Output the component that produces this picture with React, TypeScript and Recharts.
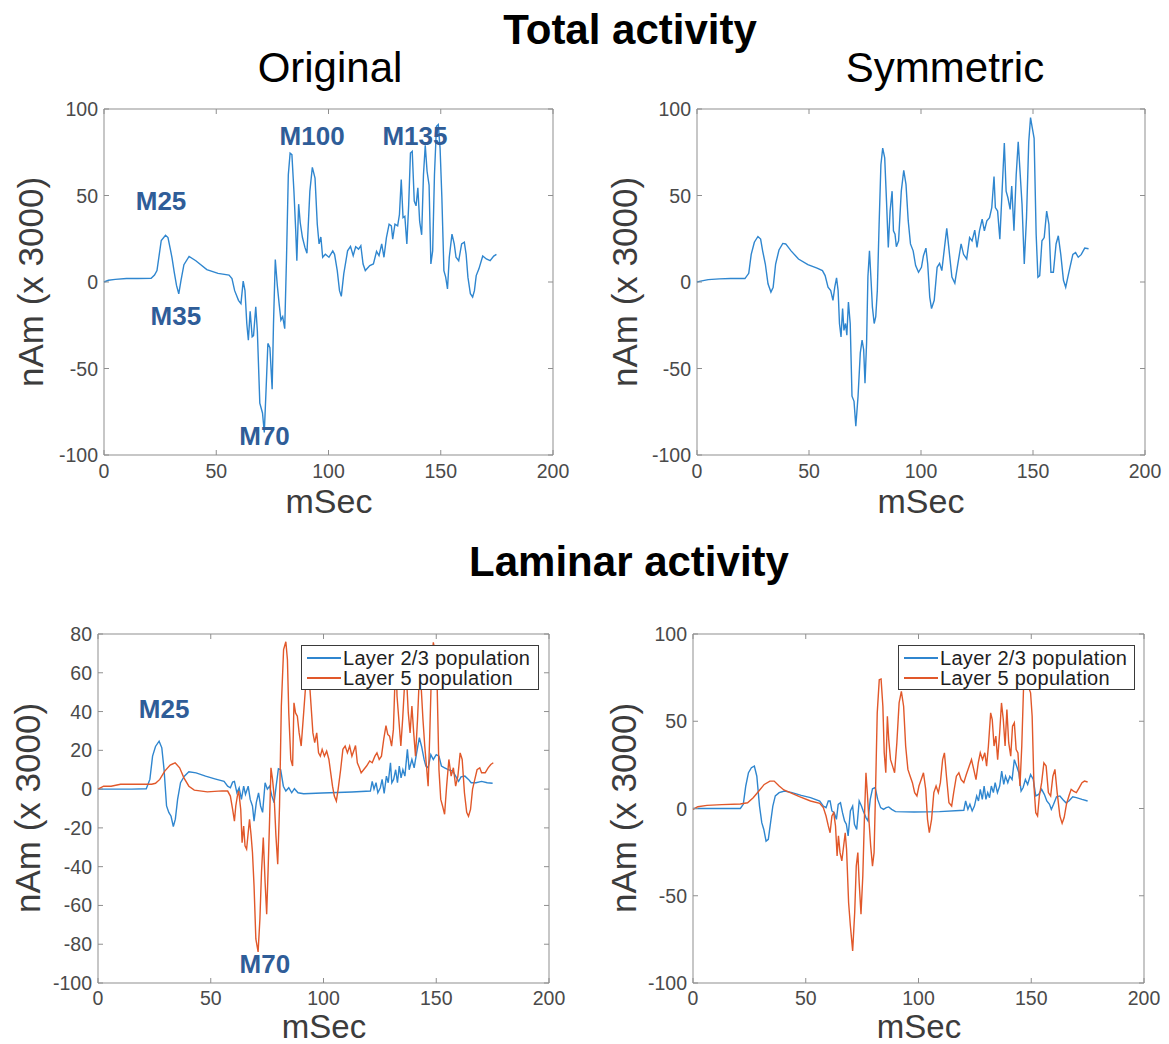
import React from "react";
import { LineChart, Line, XAxis, YAxis, ReferenceArea, ReferenceDot, Legend } from "recharts";

const FONT = '"Liberation Sans", Arial, Helvetica, sans-serif';
const BLUE = "#2f86cf";
const ORANGE = "#e1582a";
const NOTE_BLUE = "#2f5d98";
const BOX = "#8f8f8f";
const TICK_TEXT = "#4a4a4a";

const xTicks = [0, 50, 100, 150, 200];
const yTicks100 = [-100, -50, 0, 50, 100];
const yTicks80 = [-100, -80, -60, -40, -20, 0, 20, 40, 60, 80];

// [mSec, nAm x3000]
const totalOriginal = [
  [0, 0], [2, 1], [5, 1.5], [10, 2], [15, 2], [21, 2.2], [22.5, 4], [23.6, 6.6], [25.5, 24], [27.4, 27],
  [28.5, 25.7], [29.7, 18], [30.3, 14], [31.3, 5.6], [32.3, -2], [33.3, -6.8], [34.3, 1], [35.6, 10], [37.9, 14.8], [40.9, 12.3],
  [45.8, 7.2], [50.8, 5], [55.7, 4], [57, 2], [58.2, -5], [59.9, -10.6], [61, -12.5], [62, 0.5], [62.8, -5], [63.6, -24],
  [64.3, -33.6], [65.1, -17], [66, -31.7], [66.6, -31], [67.6, -14.4], [68.3, -28], [69.4, -70], [70.6, -75.7], [71.4, -87], [72.2, -62],
  [73, -35.5], [73.9, -38], [74.9, -62], [75.5, -24], [76.3, 13], [77.2, -2], [78, -12.5], [78.8, -22], [79.6, -20], [80.5, -27],
  [81.3, 14], [82.1, 62], [82.9, 74.5], [83.7, 73.6], [84.6, 52.5], [85.4, 29.6], [85.9, 12.3], [86.7, 45], [87.4, 34.4], [88.4, 25.7],
  [89.5, 20], [90.4, 16.6], [91.7, 52.5], [92.8, 66.3], [94, 60], [95, 33.4], [95.8, 22], [96.6, 26], [97.4, 14.3], [98.6, 16],
  [100.2, 14.3], [101.9, 18], [102.7, 16], [103.9, 6.6], [104.9, -5], [105.7, -8.3], [106.8, 4.7], [108.5, 18], [109.8, 20.6], [111, 15.2],
  [112.1, 20.4], [113.4, 19], [114.4, 21], [115.4, 10.4], [116.4, 6.6], [118.4, 9.5], [120, 10.4], [121.4, 17.7], [122.5, 15.2], [123.7, 22],
  [124.7, 14.3], [125.8, 25.7], [127, 33.4], [128, 32.4], [128.6, 24.8], [129.6, 33.4], [130.8, 32.4], [131.6, 39], [132.4, 59.2], [133.2, 37.2],
  [134, 38], [134.9, 22], [135.7, 44], [136.5, 74.5], [137.3, 75.5], [138.2, 46.8], [139, 44], [139.8, 54.5], [140.6, 35], [141.5, 27.3],
  [142.3, 62], [143.1, 79], [143.9, 64], [144.8, 56], [145.6, 10.4], [146.4, 18], [147.2, 62], [148.1, 90], [148.9, 91], [149.7, 77.4],
  [150.5, 48.7], [151.4, 6.6], [152.2, 2.8], [153, -4], [153.8, 14.3], [155, 27.7], [156, 22], [156.8, 14.3], [158, 12.3], [159.3, 22],
  [160.5, 23], [161.3, 16], [162.1, 2.8], [163.2, -6.8], [164.2, -8.7], [165, -5], [165.8, 3.7], [167, 7.6], [168.7, 15], [170.3, 13.3],
  [172, 12.3], [173.6, 15], [174.8, 16],
];

const totalSymmetric = [
  [0, 0], [1.6, 0.5], [5, 1.4], [10, 1.8], [15, 2], [21.4, 2], [23.1, 5], [24.2, 16], [25.6, 23], [27.2, 26.3],
  [28.4, 24.8], [29.3, 18], [30.5, 10.4], [31.7, -1], [33, -5.8], [34, -3], [35.1, 10.4], [36.6, 18.5], [38.3, 22.3], [39.6, 22],
  [42, 18], [45.3, 13.3], [49.5, 10], [53.6, 8], [56, 6.6], [57.2, 3.7], [58.5, -3], [59.7, -5], [60.7, -10.6], [61.5, -3],
  [62.3, 2.4], [63, -5], [63.6, -24], [64.3, -31.7], [65, -15.4], [65.6, -28], [66.3, -24], [66.9, -30.7], [67.6, -11.6], [68.4, -24],
  [69.2, -66], [70.1, -69], [70.9, -83.4], [71.9, -66], [72.9, -41], [73.7, -33.6], [74.4, -39], [75, -58.5], [75.7, -35.5], [76.3, 3],
  [77, 18], [77.7, 1], [78.3, -14.4], [79.1, -24], [79.8, -20], [80.5, -5], [81.3, 33.4], [82.1, 67.8], [82.9, 77.4], [83.8, 71.7],
  [84.6, 46.8], [85.4, 20], [86.2, 41], [87.1, 52.5], [87.7, 29.6], [88.4, 27.7], [89, 20.4], [90, 23.8], [91.2, 52.5], [92.3, 64.6],
  [93.3, 56.4], [94.3, 35.3], [95.3, 22], [96.5, 18], [97.6, 9.5], [98.9, 5.6], [100.2, 8.5], [101.1, 15.2], [102.2, 19.6], [103, 10.4],
  [103.9, -8.7], [104.7, -15.4], [105.9, -10.6], [107.2, 8.5], [108.3, 10.8], [109.3, 6.6], [110.5, 20], [111.5, 31], [112.4, 20], [113.8, 2.8],
  [115.1, -0.7], [116.2, 8.5], [117.9, 22], [119, 16], [120.4, 13.3], [121.7, 25.7], [122.8, 23.8], [124, 30], [125, 20], [126.1, 29.6],
  [127.3, 36.3], [128.3, 29.6], [129.4, 35.3], [130.6, 37.2], [131.6, 43], [132.6, 61], [133.2, 43], [134.2, 41], [135.2, 24.8], [136.2, 52.5],
  [137.2, 80.3], [138, 52.5], [138.8, 48.7], [139.8, 42], [140.5, 55.4], [141.5, 29.6], [142.5, 62], [143.4, 81], [144.3, 62], [145.1, 45],
  [146.1, 10.4], [147.1, 37.2], [148.1, 81], [148.9, 95], [149.7, 89], [150.5, 83], [151.4, 27.7], [152.2, 2.8], [153, 3.7], [154, 23.8],
  [155, 25.7], [156.1, 41], [157.1, 33.4], [158, 5.6], [159.1, 5.6], [160.3, 22], [161.3, 26.7], [162.4, 16], [163.6, 1], [164.6, -3],
  [165.7, 3.7], [166.5, 8.5], [167.8, 16], [169, 17], [170.2, 14.3], [171.5, 15.8], [173.1, 19.6], [174.8, 19.2],
];

const layer23Original = [
  [0, 0], [5, 0], [10, 0], [15, 0], [21.4, 0.2], [23, 5], [24.2, 17], [25.5, 22], [27.1, 24.7], [28.3, 21.3],
  [29.3, 10], [30.4, -8.7], [31.4, -12], [32.4, -14], [33.4, -19.3], [34.3, -15.5], [35.3, -5.3], [36.6, 3.3], [38.3, 6.7], [40.3, 8.9],
  [43.5, 8.4], [47.7, 6.7], [51.8, 5.3], [55.9, 4], [57.5, 1.5], [58.7, 0.7], [59.7, 3.6], [60.5, 4], [61.6, -1.9], [62.6, 0.7],
  [63.6, -5.3], [64.6, 1.5], [65.4, -2.7], [66.6, 1.5], [67.5, -5.3], [68.5, -8.7], [69.2, -16.5], [70.2, -7], [71.2, -1.9], [72.1, -8.7],
  [73, -12], [74.1, 3.3], [75.1, 0], [76.1, 1.5], [77.1, -3.5], [78.1, -7], [79, 1.5], [80, 10.5], [81, 10], [82.2, 1.5],
  [83.3, -1], [84.6, 0.7], [85.9, -1.9], [87.1, 0.2], [88.7, -1.9], [91.2, -2.4], [99.4, -2], [112.6, -1.5], [120.8, -1], [121.6, 4],
  [122.4, 0], [123.3, 3.3], [124.1, -1.9], [125.2, 0.7], [126, 5], [126.9, -2.2], [127.9, 6.7], [128.7, 3.3], [129.7, 13.6], [130.3, 3.3],
  [131.1, 5], [132, 10], [132.8, 3.3], [133.6, 11.9], [134.4, 5.8], [135.2, 10], [136.1, 6.7], [137.2, 20.5], [138, 10], [139.2, 15.3],
  [140.2, 11], [141.3, 18.7], [142.5, 26.5], [143.5, 22], [144.6, 15.3], [145.4, 11.9], [146.4, 11], [147.6, 17.8], [148.7, 15.3], [150, 17.8],
  [151.2, 17], [152.3, 11.9], [153.7, 11], [155.3, 10], [157.3, 9.3], [158.6, 6.7], [159.9, 4], [161, 6.3], [162.7, 6.7], [164.3, 5],
  [165.5, 3.3], [167.6, 3.3], [170.1, 4], [172.6, 3.3], [175, 3],
];

const layer5Original = [
  [0, 0], [2.5, 1.5], [5.8, 1.5], [10, 2.5], [15, 2.5], [20, 2.5], [23.8, 2.5], [25.5, 3], [27.4, 5], [29.6, 9.3],
  [32, 12.4], [34.2, 13.6], [36.2, 11], [38.1, 5.8], [40.3, 1.5], [42.7, -0.5], [48.5, -1.4], [55, -0.9], [57.5, -1], [58.7, -3.6],
  [59.7, -10.5], [60.5, -16.5], [61.1, -8.7], [61.8, -3.6], [62.4, -1], [63.3, -10.5], [63.9, -27.6], [64.6, -19], [65.2, -29.3], [65.9, -31],
  [66.6, -22.5], [67.2, -15.6], [67.9, -24], [68.5, -32.7], [69.2, -49.9], [70, -77.3], [71, -84], [71.8, -67], [72.5, -43], [73.3, -25],
  [74.1, -48], [74.8, -64.5], [75.4, -43], [76.1, -15.6], [76.7, 11], [77.4, 5], [78.1, -3.6], [78.9, -24], [79.7, -38.7], [80.5, -8.7],
  [81.3, 42.8], [82.3, 72], [83.3, 76], [84, 66.8], [84.6, 39.3], [85.5, 15.3], [86.3, 11.9], [86.9, 44.5], [87.6, 39.3], [88.4, 37.6],
  [89.2, 29], [90.1, 22.2], [91.2, 39.3], [92.5, 60], [93.2, 65], [93.7, 56.5], [94.5, 42.8], [95.3, 29], [96.1, 24], [97, 29],
  [97.8, 18.7], [98.6, 17], [99.4, 20.5], [100.4, 17], [101.4, 19.6], [102.4, 15.3], [103.2, 8.4], [104, 1.5], [104.8, -3.6], [105.7, -6.2],
  [106.5, 0], [107.6, 10], [108.6, 20.5], [109.6, 22.2], [110.6, 18.7], [111.6, 22.2], [112.6, 17], [113.4, 19.6], [114.2, 22.5], [115, 13.6],
  [115.9, 11], [116.7, 8.4], [117.8, 10], [119.1, 11.9], [120.5, 14.5], [121.6, 13.6], [122.8, 17], [123.7, 18.7], [124.7, 15.3], [125.7, 17],
  [126.7, 25.6], [127.7, 32.8], [128.5, 28.2], [129.3, 27.3], [130.2, 22.2], [131, 30.8], [131.8, 60], [132.3, 62], [132.6, 48], [133.4, 36],
  [134.3, 22.2], [135.1, 36], [135.9, 53], [136.7, 60], [137.6, 39.3], [138.4, 29], [139.2, 42.8], [140, 29], [140.8, 17], [141.7, 36],
  [142.5, 58], [143.3, 53], [144.1, 36], [144.9, 22.2], [145.8, 10], [146.4, 1.5], [147.1, 27.3], [147.9, 61.6], [148.7, 75.7], [149.6, 70],
  [150.4, 53], [151.2, 10], [152, -5.3], [152.8, -8.7], [153.7, -13], [154.6, 1.5], [155.6, 15.3], [156.6, 6.7], [157.6, 11], [158.6, 1.5],
  [159.6, 6.7], [160.6, 18.7], [161.5, 15.3], [162.5, -1.9], [163.5, -12], [164.3, -14], [165.2, -10.5], [166.1, 0], [167.1, 5], [168.1, 10],
  [169.3, 11], [170.1, 8.4], [171.7, 8.4], [173, 11], [174.2, 12.7], [175.3, 13.6],
];

const layer23Symmetric = [
  [0, 0], [5, 0], [10, 0], [15, 0], [21, 0], [22.3, 2.4], [23.4, 12.9], [24.6, 20.5], [25.9, 23.4], [27.2, 24.3],
  [28.3, 18.5], [29.5, 1.4], [30.5, -8.1], [31.4, -12], [32.4, -18.7], [33.4, -17.7], [34.4, -8.1], [35.4, 1.4], [36.5, 7.2], [38.2, 9.1],
  [40.6, 10], [43.9, 9.1], [48, 7.5], [52.1, 6.2], [56.2, 4.3], [57.8, 1.4], [59, 0.5], [60, 4.3], [60.8, 4.3], [61.6, -1.4],
  [62.6, -2.4], [63.6, -6.2], [64.4, 2.4], [65.4, 3.3], [66.3, -2.4], [67.2, -7.1], [68, -9], [68.8, -15.7], [69.8, -1.4], [70.8, 1.4],
  [71.6, -9], [72.6, -12], [73.7, 4.3], [74.7, 1.4], [75.5, -1.4], [76.7, -5.2], [77.6, -7.1], [78.6, 5.2], [79.6, 11.3], [80.8, 12],
  [81.9, 5.2], [83.2, 0.5], [84.5, -0.5], [85.7, 0.5], [86.8, 0.9], [88.1, -0.5], [89.8, -1.8], [98, -2], [109.4, -1.8], [120.1, -1],
  [120.9, 4.3], [121.9, -0.5], [122.8, 2.4], [123.8, -1.4], [124.8, 1.4], [125.8, 7.2], [126.6, 4.3], [127.4, 11], [128.3, 5.2], [129.1, 12.9],
  [129.9, 5.2], [130.7, 9.1], [131.5, 6.2], [132.3, 12.9], [133.2, 9.1], [134, 14.8], [135, 9.1], [136, 12.9], [136.9, 21.4], [137.8, 13.8],
  [138.6, 18.5], [139.6, 14.8], [140.5, 18.5], [141.5, 16.6], [142.5, 28], [143.5, 24.3], [144.5, 20.5], [145.5, 10], [146.4, 12], [147.4, 16.6],
  [148.4, 13.8], [149.7, 19.5], [150.9, 16.6], [152, 7.2], [153.3, 8.1], [154.6, 11], [155.8, 8.1], [156.9, 4.3], [158.1, 2.4], [158.9, -0.5],
  [159.9, 2.4], [161.2, 6.7], [162.7, 7.2], [164, 5.2], [165.4, 3.3], [166.7, 4.3], [168.4, 6.7], [170, 6.2], [172.5, 5.2], [175, 4.3],
];

const layer5Symmetric = [
  [0, -0.5], [2.1, 1], [6.2, 1.8], [12.8, 2.2], [21, 2.6], [24.2, 3.3], [26.7, 6.2], [29.2, 10], [31.6, 13.8], [34.1, 15.7],
  [36, 15.7], [38.2, 12.9], [40.3, 10.6], [43.1, 9.1], [47.2, 6.8], [52.1, 4.3], [56.2, 3], [57.8, 0.5], [59, -4.3], [60, -10],
  [60.8, -13.9], [61.6, -4.3], [62.4, -2.4], [63.2, -10], [63.9, -27.2], [64.5, -15.7], [65.2, -25.3], [66, -30], [66.8, -21.5], [67.5, -13.9],
  [68.1, -23.4], [69, -53.9], [69.8, -67.3], [70.8, -81.6], [71.7, -59.7], [72.4, -33], [73.1, -25.3], [73.7, -42.5], [74.5, -60.6], [75.3, -38.7],
  [76, -6.2], [76.7, 20.5], [77.3, 9.1], [78, -6.2], [78.8, -21.5], [79.6, -33], [80.3, -25.3], [80.9, 7.2], [81.7, 54.8], [82.6, 73.8],
  [83.4, 74.2], [84.2, 58.6], [84.8, 31.9], [85.5, 20.5], [86.2, 52.9], [86.8, 39.5], [87.6, 28], [88.5, 24.3], [89.4, 20.5], [90.4, 37.7],
  [91.4, 60.5], [92.4, 67.1], [93.4, 58.6], [94.3, 35.8], [95.3, 22.4], [96.3, 18.5], [97.3, 14.8], [98.3, 9.1], [99.3, 7.2], [100.2, 12.9],
  [101.2, 16.6], [102.2, 20.5], [103.2, 11], [104, -6.2], [104.8, -13.9], [105.8, -6.2], [106.8, 9.1], [107.8, 12.9], [108.8, 9.1], [109.7, 14.8],
  [110.7, 28], [111.5, 31.9], [112.4, 18.5], [113.5, 3.3], [114.7, 1.4], [115.6, 9.1], [116.8, 18.5], [117.9, 20.5], [118.9, 16.6], [120.1, 14.8],
  [121.2, 19.5], [122.5, 24.3], [123.5, 28], [124.5, 22.4], [125.5, 16.6], [126.5, 26.1], [127.4, 31.9], [128.4, 28], [129.4, 31.9], [130.2, 24.3],
  [131, 35.8], [132, 54.8], [132.7, 51], [133.5, 35.8], [134.3, 41.5], [135.1, 28], [136, 43.4], [136.8, 60.5], [137.6, 51], [138.4, 35.8],
  [139.2, 56.7], [140, 37.7], [140.9, 30], [141.7, 47.2], [142.5, 49.1], [143.3, 33.8], [144.1, 31.9], [145, 12.9], [145.8, 35.8], [146.6, 70],
  [147.4, 72], [148.1, 70], [148.7, 70], [149.7, 66.3], [150.4, 52.9], [151.2, 12.9], [152, -2.4], [152.8, -4.3], [153.6, 7.2], [154.6, 14.8],
  [155.6, 26.1], [156.6, 24.3], [157.6, 9.1], [158.6, 7.2], [159.6, 18.5], [160.5, 22.4], [161.5, 9.1], [162.7, -4.3], [163.7, -8.5], [164.6, -5.2],
  [165.6, 2.4], [166.7, 7.2], [167.7, 11], [168.7, 10], [170, 9.1], [171.3, 12], [172.5, 14.8], [173.6, 15.7], [175, 15.2],
];

// peak labels: [name, mSec, value]
const peaksTotal = [["M25", 25.4, 46.8], ["M35", 32, -19.7], ["M70", 71.5, -89], ["M100", 92.7, 84.4], ["M135", 138.5, 84.4]];
const peaksLaminar = [["M25", 29.3, 41.3], ["M70", 74, -90.2]];

const legendNames = ["Layer 2/3 population", "Layer 5 population"];

const rows = (pairs: number[][]) => pairs.map(([t, v]) => ({ t, v }));

type Series = { name: string; color: string; pairs: number[][] };

type PanelProps = {
  left: number;
  top: number;
  width: number;
  height: number;
  yAxisWidth: number;
  marginTop: number;
  marginRight: number;
  plotH: number;
  tickGap: number;
  yDomain: [number, number];
  yTicks: number[];
  series: Series[];
  peaks?: (string | number)[][];
  legendLeft?: number;
  legendWidth?: number;
};

function LegendBox({ items, width }: { items: Series[]; width: number }) {
  return (
    <div
      style={{
        width,
        height: 45,
        boxSizing: "border-box",
        border: "1px solid #3a3a3a",
        background: "#fff",
        fontFamily: FONT,
        fontSize: 20,
        color: "#1e1e1e",
        paddingTop: 2,
      }}
    >
      {items.map((s) => (
        <div key={s.name} style={{ display: "flex", alignItems: "center", height: 20 }}>
          <span style={{ display: "inline-block", width: 34, height: 2, background: s.color, marginLeft: 5, marginRight: 2 }} />
          <span style={{ lineHeight: "20px", whiteSpace: "nowrap", letterSpacing: 0.3 }}>{s.name}</span>
        </div>
      ))}
    </div>
  );
}

function Panel(p: PanelProps) {
  const plotTop = p.marginTop;
  const plotBottom = p.marginTop + p.plotH;
  const plotLeft = p.yAxisWidth;
  const plotRight = p.width - p.marginRight;

  const xTick = ({ x, payload }: any) => (
    <g>
      <line x1={x} x2={x} y1={plotBottom} y2={plotBottom - 5} stroke={BOX} />
      <line x1={x} x2={x} y1={plotTop} y2={plotTop + 5} stroke={BOX} />
      <text x={x} y={plotBottom + p.tickGap} textAnchor="middle" fontSize={19.5} fill={TICK_TEXT} fontFamily={FONT}>
        {payload.value}
      </text>
    </g>
  );

  const yTick = ({ y, payload }: any) => (
    <g>
      <line x1={plotLeft} x2={plotLeft + 5} y1={y} y2={y} stroke={BOX} />
      <line x1={plotRight} x2={plotRight - 5} y1={y} y2={y} stroke={BOX} />
      <text x={plotLeft - 6} y={y + 7} textAnchor="end" fontSize={19.5} fill={TICK_TEXT} fontFamily={FONT}>
        {payload.value}
      </text>
    </g>
  );

  return (
    <div style={{ position: "absolute", left: p.left, top: p.top }}>
      <LineChart width={p.width} height={p.height} margin={{ top: p.marginTop, right: p.marginRight, left: 0, bottom: 0 }}>
        <XAxis
          type="number"
          dataKey="t"
          domain={[0, 200]}
          ticks={xTicks}
          axisLine={false}
          tickLine={false}
          height={p.height - plotBottom}
          tick={xTick}
          interval={0}
        />
        <YAxis
          type="number"
          domain={p.yDomain}
          ticks={p.yTicks}
          axisLine={false}
          tickLine={false}
          width={p.yAxisWidth}
          tick={yTick}
          interval={0}
        />
        <ReferenceArea x1={0} x2={200} y1={p.yDomain[0]} y2={p.yDomain[1]} fill="none" stroke={BOX} strokeWidth={1} />
        {p.series.map((s) => (
          <Line
            key={s.name}
            data={rows(s.pairs)}
            dataKey="v"
            name={s.name}
            type="linear"
            stroke={s.color}
            strokeWidth={1.4}
            dot={false}
            isAnimationActive={false}
          />
        ))}
        {(p.peaks || []).map(([name, t, v]) => (
          <ReferenceDot
            key={name as string}
            x={t as number}
            y={v as number}
            r={0}
            fill="none"
            stroke="none"
            label={{ value: name, position: "center", fill: NOTE_BLUE, fontSize: 26, fontWeight: 700, fontFamily: FONT }}
          />
        ))}
        {p.legendLeft !== undefined && (
          <Legend
            layout="vertical"
            align="center"
            verticalAlign="middle"
            wrapperStyle={{ left: p.legendLeft, top: 25, width: p.legendWidth, height: 45 }}
            content={() => <LegendBox items={p.series} width={p.legendWidth || 238} />}
          />
        )}
      </LineChart>
    </div>
  );
}

const titleStyle = { fontFamily: FONT, fill: "#000" };
const axisTitleStyle = { fontFamily: FONT, fill: "#3c3c3c", fontSize: 35 };
const xTitleStyle = { fontFamily: FONT, fill: "#3c3c3c", fontSize: 34 };
const xTitleLowStyle = { fontFamily: FONT, fill: "#3c3c3c", fontSize: 33 };

export default function App() {
  const laminarOrig: Series[] = [
    { name: legendNames[0], color: BLUE, pairs: layer23Original },
    { name: legendNames[1], color: ORANGE, pairs: layer5Original },
  ];
  const laminarSym: Series[] = [
    { name: legendNames[0], color: BLUE, pairs: layer23Symmetric },
    { name: legendNames[1], color: ORANGE, pairs: layer5Symmetric },
  ];

  return (
    <div style={{ position: "absolute", left: 0, top: 0, width: 1169, height: 1044, background: "#fff", overflow: "hidden" }}>
      <Panel
        left={0} top={90} width={580} height={425} yAxisWidth={104} marginTop={19} marginRight={27} plotH={346} tickGap={23}
        yDomain={[-100, 100]} yTicks={yTicks100}
        series={[{ name: "total", color: BLUE, pairs: totalOriginal }]}
        peaks={peaksTotal}
      />
      <Panel
        left={590} top={90} width={579} height={425} yAxisWidth={107} marginTop={19} marginRight={24} plotH={346} tickGap={23}
        yDomain={[-100, 100]} yTicks={yTicks100}
        series={[{ name: "total", color: BLUE, pairs: totalSymmetric }]}
      />
      <Panel
        left={0} top={620} width={580} height={423} yAxisWidth={98} marginTop={14} marginRight={31} plotH={349} tickGap={22}
        yDomain={[-100, 80]} yTicks={yTicks80}
        series={laminarOrig}
        peaks={peaksLaminar}
        legendLeft={301} legendWidth={238}
      />
      <Panel
        left={590} top={620} width={579} height={423} yAxisWidth={103} marginTop={14} marginRight={25} plotH={349} tickGap={22}
        yDomain={[-100, 100]} yTicks={yTicks100}
        series={laminarSym}
        legendLeft={308} legendWidth={237}
      />
      <svg width={1169} height={1044} style={{ position: "absolute", left: 0, top: 0, pointerEvents: "none" }}>
        <text x={630} y={44} textAnchor="middle" fontSize={42} fontWeight={700} style={titleStyle}>Total activity</text>
        <text x={330} y={82} textAnchor="middle" fontSize={42} style={titleStyle}>Original</text>
        <text x={945} y={82} textAnchor="middle" fontSize={42} style={titleStyle}>Symmetric</text>
        <text x={629} y={576} textAnchor="middle" fontSize={42} fontWeight={700} style={titleStyle}>Laminar activity</text>

        <text x={43} y={282} textAnchor="middle" transform="rotate(-90, 43, 282)" style={axisTitleStyle}>nAm (x 3000)</text>
        <text x={637} y={282} textAnchor="middle" transform="rotate(-90, 637, 282)" style={axisTitleStyle}>nAm (x 3000)</text>
        <text x={40} y={808} textAnchor="middle" transform="rotate(-90, 40, 808)" style={axisTitleStyle}>nAm (x 3000)</text>
        <text x={636} y={808} textAnchor="middle" transform="rotate(-90, 636, 808)" style={axisTitleStyle}>nAm (x 3000)</text>

        <text x={329} y={513} textAnchor="middle" style={xTitleStyle}>mSec</text>
        <text x={921} y={513} textAnchor="middle" style={xTitleStyle}>mSec</text>
        <text x={324} y={1038} textAnchor="middle" style={xTitleLowStyle}>mSec</text>
        <text x={919} y={1038} textAnchor="middle" style={xTitleLowStyle}>mSec</text>
      </svg>
    </div>
  );
}
